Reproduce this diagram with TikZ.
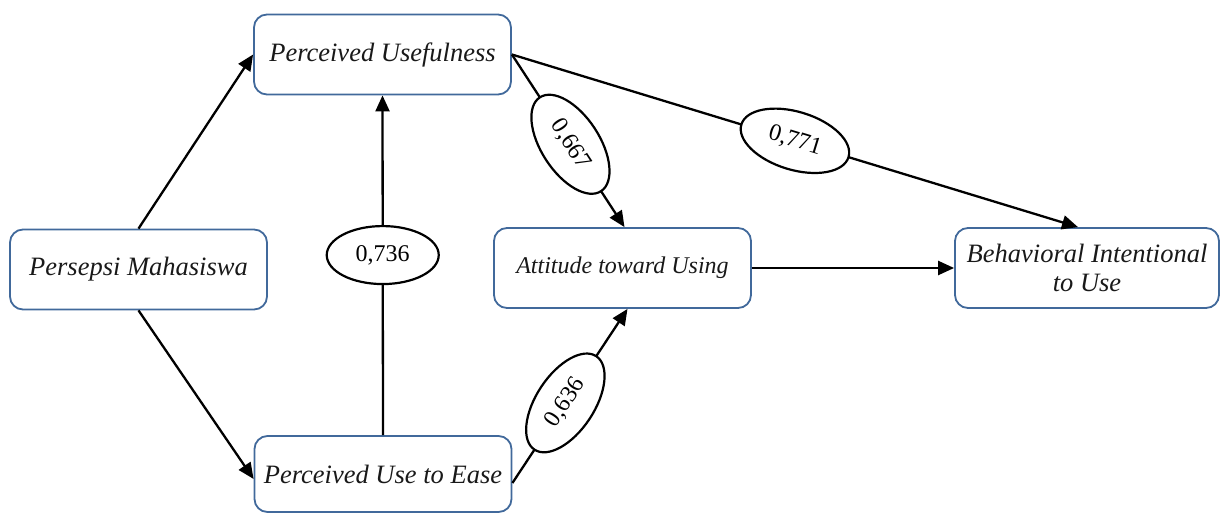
\documentclass[tikz,border=0pt]{standalone}
\usepackage{fontspec}
\setmainfont{Liberation Serif}
\usetikzlibrary{arrows.meta,shapes.geometric}
\definecolor{boxblue}{RGB}{65,105,155}
\definecolor{txtgray}{RGB}{25,25,25}
\tikzset{
  varbox/.style={draw=boxblue, line width=1.8pt, rounded corners=13pt, fill=white,
    minimum width=257pt, minimum height=80pt, inner sep=2pt, align=center,
    text=txtgray, font=\fontsize{26.5}{29}\selectfont\itshape},
  coef/.style={draw=black, line width=2.2pt, ellipse, fill=white, inner sep=0pt,
    minimum width=112pt, minimum height=58pt, font=\fontsize{24}{26}\selectfont},
  link/.style={draw=black, line width=2.3pt, -{Triangle[length=16pt,width=14pt]}}
}
\begin{document}
\begin{tikzpicture}[x=1pt,y=-1pt]
\useasboundingbox (0,0) rectangle (1221,512);
\node[varbox] (PU) at (382.5,54.5) {Perceived Usefulness};
\node[varbox] (PS) at (138.5,269.5) {Persepsi Mahasiswa};
\node[varbox, minimum height=76pt] (PE) at (383,474) {Perceived Use to Ease};
\node[varbox, font=\fontsize{24}{27}\selectfont\itshape] (AT) at (622.5,268) {Attitude toward Using};
\node[varbox, minimum width=264pt] (BI) at (1087,268) {Behavioral Intentional\\to Use};

\draw[link] (PS.north) -- (PU.west);
\draw[link] (PS.south) -- ([yshift=-5pt]PE.west);
\draw[link] (PE.north) -- node[coef, pos=0.53] (c1) {0,736} (PU.south);
\draw[link] (PU.east) -- node[coef, sloped, pos=0.52] (c2) {0,667} ([xshift=2pt]AT.north);
\draw[link] (PU.east) -- node[coef, sloped, pos=0.5] (c3) {0,771} ([xshift=-9pt]BI.north);
\draw[link] ([yshift=-9pt]PE.east) -- node[coef, sloped, pos=0.46] (c4) {0,636} ([xshift=5pt]AT.south);
\draw[link] (AT.east) -- (BI.west);
\end{tikzpicture}
\end{document}
